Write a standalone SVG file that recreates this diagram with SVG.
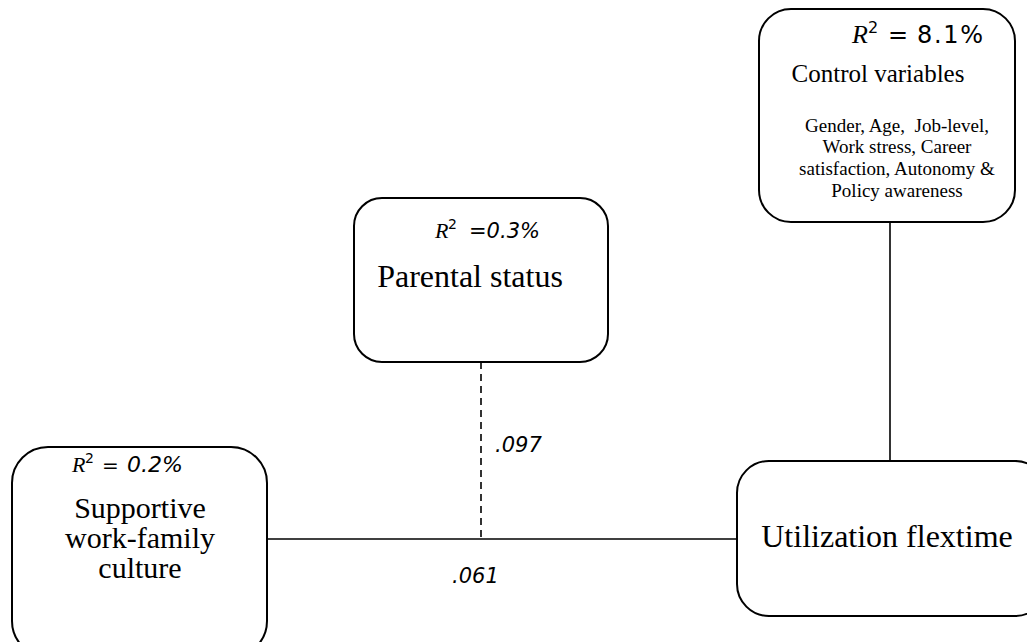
<svg xmlns="http://www.w3.org/2000/svg" width="1027" height="642" viewBox="0 0 1027 642">
<style>
.box{fill:#fff;stroke:#000;stroke-width:2}
.ln{stroke:#000;stroke-width:1.6;fill:none}
.dash{stroke:#000;stroke-width:1.6;stroke-dasharray:7,5;fill:none}
.tm{font-family:"Liberation Serif","Times New Roman",serif;fill:#000}
.rr{font-family:"Liberation Serif",serif;font-style:italic;fill:#000}
.mn{font-family:"DejaVu Sans","Noto Sans",sans-serif;fill:#000}
.it{font-style:italic}
</style>
<rect width="1027" height="642" fill="#fff"/>
<g id="connectors">
<line class="ln" x1="890" y1="222" x2="890" y2="461"/>
<line class="ln" x1="267" y1="539" x2="737" y2="539"/>
<line class="dash" x1="481" y1="362" x2="481" y2="539"/>
<text class="mn it" x="495" y="452" font-size="21">.097</text>
<text class="mn it" x="452" y="583" font-size="21">.061</text>
</g>
<g id="control">
<rect class="box" x="759" y="9" width="256" height="213" rx="32" ry="32"/>
<text class="rr" x="852" y="43" font-size="26">R</text>
<text class="mn" x="868" y="33" font-size="16">2</text>
<text class="mn" x="888" y="43" font-size="24">=</text>
<text class="mn" x="917" y="43" font-size="24" textLength="66" lengthAdjust="spacing">8.1%</text>
<text class="tm" x="878" y="82" font-size="25" text-anchor="middle">Control variables</text>
<text class="tm" x="897" y="132" font-size="19" text-anchor="middle" xml:space="preserve">Gender, Age,  Job-level,</text>
<text class="tm" x="897" y="153" font-size="19" text-anchor="middle">Work stress, Career</text>
<text class="tm" x="897" y="175" font-size="19" text-anchor="middle">satisfaction, Autonomy &amp;</text>
<text class="tm" x="897" y="197" font-size="19" text-anchor="middle">Policy awareness</text>
</g>
<g id="parental">
<rect class="box" x="354" y="198" width="254" height="164" rx="28" ry="28"/>
<text class="rr" x="435" y="238" font-size="22">R</text>
<text class="mn" x="448" y="229" font-size="14">2</text>
<text class="mn it" x="469" y="238" font-size="21">=0.3%</text>
<text class="tm" x="470" y="287" font-size="32" text-anchor="middle">Parental status</text>
</g>
<g id="supportive">
<rect class="box" x="12" y="447" width="255" height="210" rx="36" ry="36"/>
<text class="rr" x="72" y="472" font-size="22">R</text>
<text class="mn" x="85" y="463" font-size="14">2</text>
<text class="mn" x="102" y="472" font-size="20">=</text>
<text class="mn it" x="127" y="472" font-size="22">0.2%</text>
<text class="tm" x="140" y="518" font-size="30" text-anchor="middle">Supportive</text>
<text class="tm" x="140" y="548" font-size="30" text-anchor="middle">work-family</text>
<text class="tm" x="140" y="578" font-size="30" text-anchor="middle">culture</text>
</g>
<g id="utilization">
<rect class="box" x="737" y="461" width="310" height="155" rx="32" ry="32"/>
<text class="tm" x="887" y="547" font-size="32" text-anchor="middle">Utilization flextime</text>
</g>
</svg>
